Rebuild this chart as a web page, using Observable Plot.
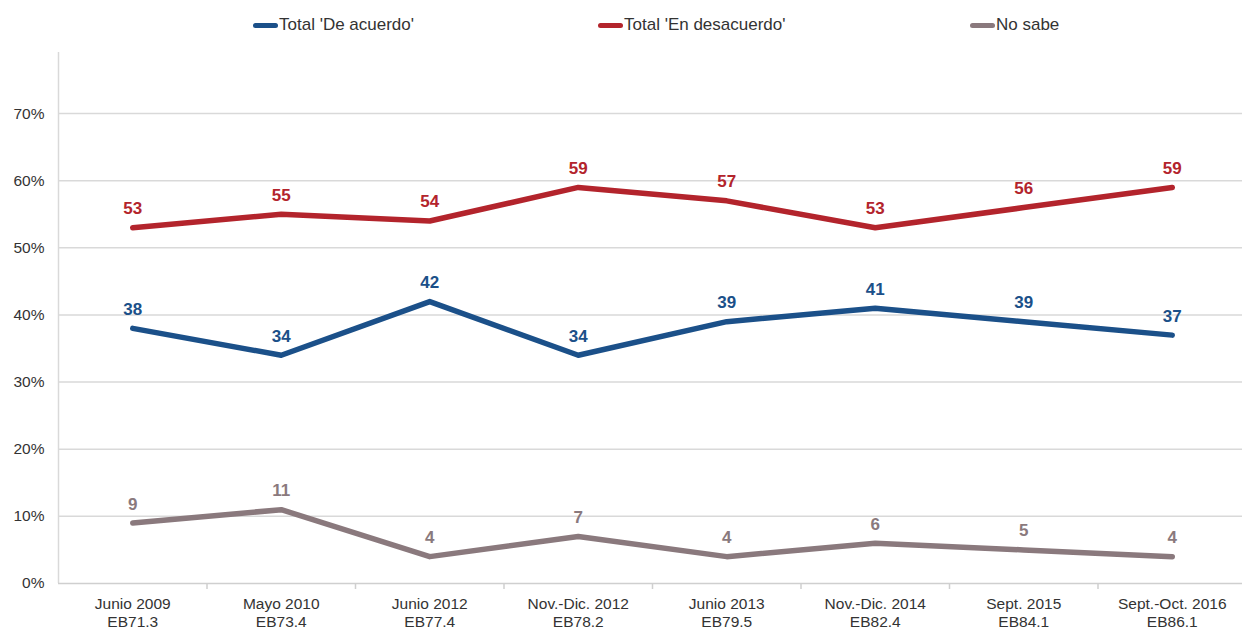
<!DOCTYPE html>
<html>
<head>
<meta charset="utf-8">
<script src="https://cdn.jsdelivr.net/npm/d3@7"></script>
<script src="https://cdn.jsdelivr.net/npm/@observablehq/plot@0.6"></script>
<style>
  html, body { margin: 0; padding: 0; background: #fff; width: 1242px; height: 632px; overflow: hidden; }
  body { font-family: "Liberation Sans", Arial, sans-serif; position: relative; }
  #legend { position: relative; height: 48px; }
  .item { position: absolute; top: 15px; display: flex; align-items: center; font-size: 17px; line-height: 20px; color: #333; white-space: nowrap; }
  .sw { display: inline-block; width: 25px; height: 5px; border-radius: 3px; margin-right: 1px; }
</style>
</head>
<body>
<div id="legend"></div>
<div id="chart"></div>
<script>
const periods = ["Junio 2009", "Mayo 2010", "Junio 2012", "Nov.-Dic. 2012", "Junio 2013", "Nov.-Dic. 2014", "Sept. 2015", "Sept.-Oct. 2016"];
const surveys = ["EB71.3", "EB73.4", "EB77.4", "EB78.2", "EB79.5", "EB82.4", "EB84.1", "EB86.1"];
const seriesNames = ["Total 'De acuerdo'", "Total 'En desacuerdo'", "No sabe"];
const deAcuerdo = [38, 34, 42, 34, 39, 41, 39, 37];
const enDesacuerdo = [53, 55, 54, 59, 57, 53, 56, 59];
const noSabe = [9, 11, 4, 7, 4, 6, 5, 4];
const yTicks = [0, 10, 20, 30, 40, 50, 60, 70];
const colors = ["#1b5089", "#b3242c", "#8a797d"];

const seriesValues = [deAcuerdo, enDesacuerdo, noSabe];
const rows = [];
seriesValues.forEach((vals, s) => vals.forEach((v, i) => rows.push({series: seriesNames[s], i, v})));
const idx = periods.map((_, i) => i);
const bounds = periods.map((_, i) => i + 0.5);

// legend
const legendX = [253, 598, 970];
const legend = document.getElementById("legend");
seriesNames.forEach((name, k) => {
  const it = document.createElement("div");
  it.className = "item";
  it.style.left = legendX[k] + "px";
  it.innerHTML = `<span class="sw" style="background:${colors[k]}"></span><span>${name}</span>`;
  legend.appendChild(it);
});

const W = 1242, H = 584;
const chart = Plot.plot({
  width: W,
  height: H,
  marginTop: 4,
  marginBottom: 49,
  marginLeft: 58,
  marginRight: 0,
  style: {fontFamily: "Liberation Sans, Arial, sans-serif", fontSize: "15.5px", color: "#333", background: "#fff", overflow: "visible"},
  x: {type: "linear", domain: [-0.5, 7.5], range: [58, 1246]},
  y: {domain: [0, 79.1]},
  color: {domain: seriesNames, range: colors},
  marks: [
    Plot.gridY(yTicks.slice(1), {stroke: "#d9d9d9", strokeOpacity: 1, strokeWidth: 1.5}),
    Plot.ruleX([-0.5], {stroke: "#d9d9d9", strokeWidth: 1.5}),
    Plot.ruleY([0], {stroke: "#cfcfcf", strokeWidth: 1.5}),
    Plot.axisY({ticks: yTicks, tickFormat: d => d + "%", tickSize: 0, tickPadding: 14, label: null, fill: "#333", fontSize: 15.5}),
    Plot.axisX({ticks: bounds, tickSize: 6, tickFormat: () => "", stroke: "#cfcfcf", strokeWidth: 1.5, label: null}),
    Plot.text(idx, {x: d => d, y: 0, text: d => periods[d] + "\n" + surveys[d], dy: 13, lineAnchor: "top", lineHeight: 1.16, fill: "#333", fontSize: 15.5}),
    Plot.line(rows, {x: "i", y: "v", z: "series", stroke: "series", strokeWidth: 5.5, strokeLinecap: "round", strokeLinejoin: "round"}),
    Plot.text(rows, {x: "i", y: "v", text: d => String(d.v), fill: "series", dy: -19, fontWeight: "bold", fontSize: 17})
  ]
});
document.getElementById("chart").appendChild(chart);
</script>
</body>
</html>
